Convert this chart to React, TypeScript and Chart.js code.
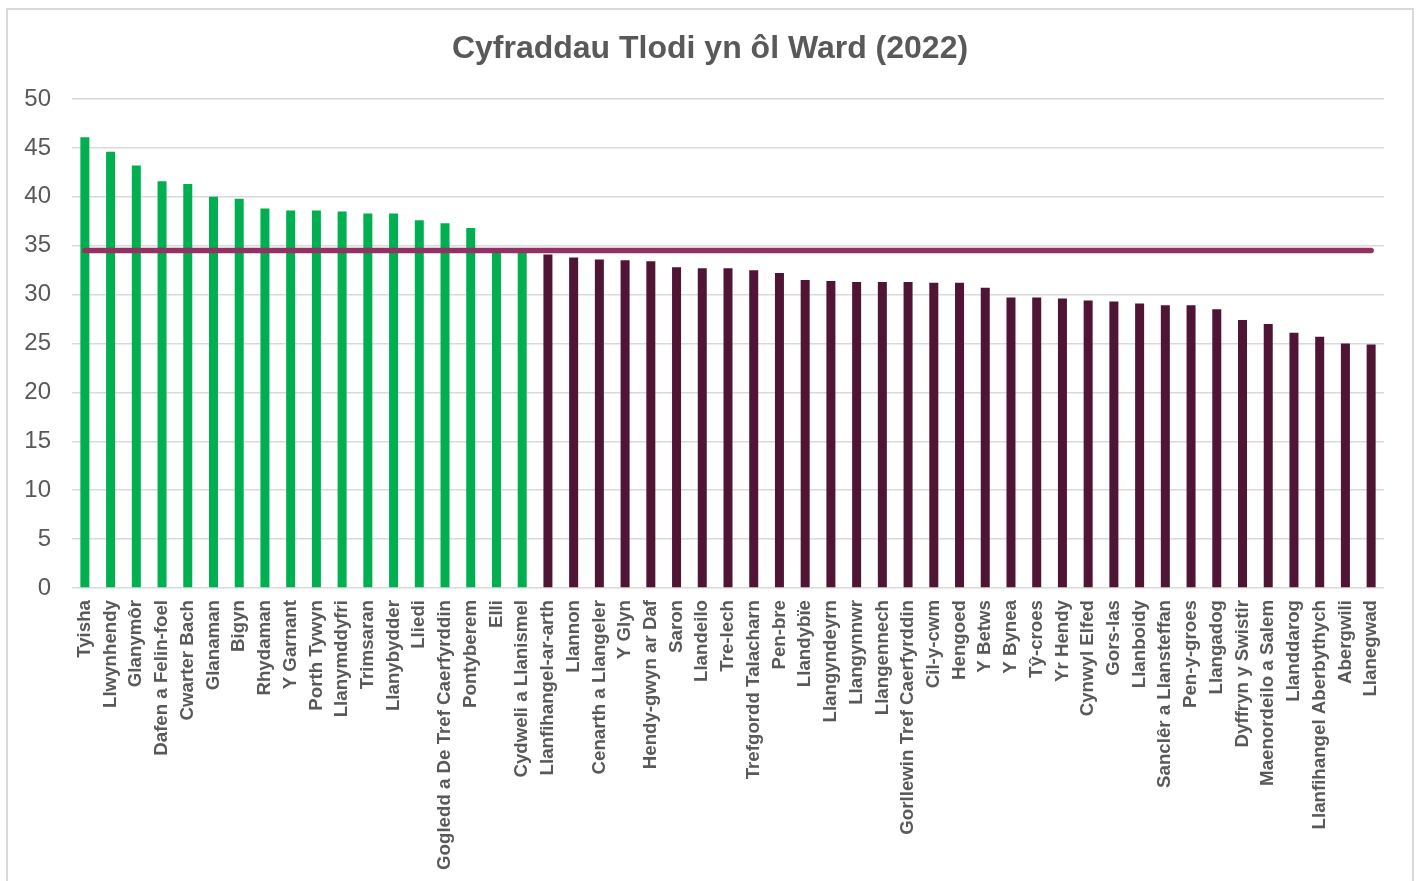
import React, { useEffect, useRef } from "react";
import { Chart, registerables } from "chart.js";

Chart.register(...registerables);

const title = "Cyfraddau Tlodi yn ôl Ward (2022)";

const wards = [
  "Tyisha", "Llwynhendy", "Glanymôr", "Dafen a Felin-foel", "Cwarter Bach",
  "Glanaman", "Bigyn", "Rhydaman", "Y Garnant", "Porth Tywyn",
  "Llanymddyfri", "Trimsaran", "Llanybydder", "Lliedi", "Gogledd a De Tref Caerfyrddin",
  "Pontyberem", "Elli", "Cydweli a Llanismel", "Llanfihangel-ar-arth", "Llannon",
  "Cenarth a Llangeler", "Y Glyn", "Hendy-gwyn ar Daf", "Saron", "Llandeilo",
  "Tre-lech", "Trefgordd Talacharn", "Pen-bre", "Llandybïe", "Llangyndeyrn",
  "Llangynnwr", "Llangennech", "Gorllewin Tref Caerfyrddin", "Cil-y-cwm", "Hengoed",
  "Y Betws", "Y Bynea", "Tŷ-croes", "Yr Hendy", "Cynwyl Elfed",
  "Gors-las", "Llanboidy", "Sanclêr a Llansteffan", "Pen-y-groes", "Llangadog",
  "Dyffryn y Swistir", "Maenordeilo a Salem", "Llanddarog", "Llanfihangel Aberbythych", "Abergwili",
  "Llanegwad",
];

const povertyRates = [
  46.1, 44.6, 43.2, 41.6, 41.3,
  40.0, 39.8, 38.8, 38.6, 38.6,
  38.5, 38.3, 38.3, 37.6, 37.3,
  36.8, 34.7, 34.6, 34.1, 33.8,
  33.6, 33.5, 33.4, 32.8, 32.7,
  32.7, 32.5, 32.2, 31.5, 31.4,
  31.3, 31.3, 31.3, 31.2, 31.2,
  30.7, 29.7, 29.7, 29.6, 29.4,
  29.3, 29.1, 28.9, 28.9, 28.5,
  27.4, 27.0, 26.1, 25.7, 25.0,
  24.9,
];

const averageRate = 34.5;

const yTicks = [0, 5, 10, 15, 20, 25, 30, 35, 40, 45, 50];

const GREEN = "#00B050";
const PURPLE = "#501434";
const LINE = "#933163";
const TEXT = "#595959";
const GRID = "#d9d9d9";
const FONT = "'Liberation Sans', Arial, sans-serif";

export default function App() {
  const canvasRef = useRef<HTMLCanvasElement | null>(null);

  useEffect(() => {
    const canvas = canvasRef.current;
    if (!canvas) return;
    const chart = new Chart(canvas, {
      type: "bar",
      data: {
        labels: wards,
        datasets: [
          {
            type: "line",
            label: "Average",
            data: [
              { x: wards[0], y: averageRate },
              { x: wards[wards.length - 1], y: averageRate },
            ] as any,
            borderColor: LINE,
            borderWidth: 5.5,
            borderCapStyle: "round",
            pointRadius: 0,
            order: 0,
          } as any,
          {
            type: "bar",
            label: "Rate",
            data: povertyRates,
            backgroundColor: povertyRates.map((v) => (v > averageRate ? GREEN : PURPLE)),
            barPercentage: 0.35,
            categoryPercentage: 1,
            order: 1,
          },
        ],
      },
      options: {
        responsive: false,
        animation: false,
        layout: { padding: { left: 0, right: 0, top: 0, bottom: 0 } },
        plugins: {
          legend: { display: false },
          tooltip: { enabled: false },
          title: {
            display: true,
            text: title,
            color: TEXT,
            font: { family: FONT, size: 32, weight: "bold" },
            padding: { top: 20, bottom: 30.6 },
          },
        },
        scales: {
          x: {
            grid: { display: false },
            border: { display: false },
            ticks: {
              color: TEXT,
              font: { family: FONT, size: 18.7, weight: "bold" },
              minRotation: 90,
              maxRotation: 90,
              autoSkip: false,
              padding: 4,
            },
            afterFit: (scale: any) => {
              scale.height = 293;
            },
          },
          y: {
            min: 0,
            max: 50,
            afterBuildTicks: (scale: any) => {
              scale.ticks = yTicks.map((v) => ({ value: v }));
            },
            grid: { color: GRID, lineWidth: 1.5, drawTicks: false },
            border: { display: false },
            ticks: {
              color: TEXT,
              font: { family: FONT, size: 24 },
              padding: 21,
            },
            afterFit: (scale: any) => {
              scale.width = 64;
            },
          },
          spacer: {
            type: "linear",
            position: "right",
            min: 0,
            max: 50,
            grid: { display: false, drawTicks: false },
            border: { display: false },
            ticks: { display: false },
            afterFit: (scale: any) => {
              scale.width = 28;
            },
          },
        },
      },
    });
    return () => chart.destroy();
  }, []);

  return (
    <div
      style={{
        position: "absolute",
        left: 6,
        top: 8,
        width: 1408,
        height: 873,
        boxSizing: "border-box",
        border: `2px solid ${GRID}`,
        borderBottom: "none",
        background: "#fff",
      }}
    >
      <canvas ref={canvasRef} width={1404} height={871} style={{ display: "block" }} />
    </div>
  );
}
